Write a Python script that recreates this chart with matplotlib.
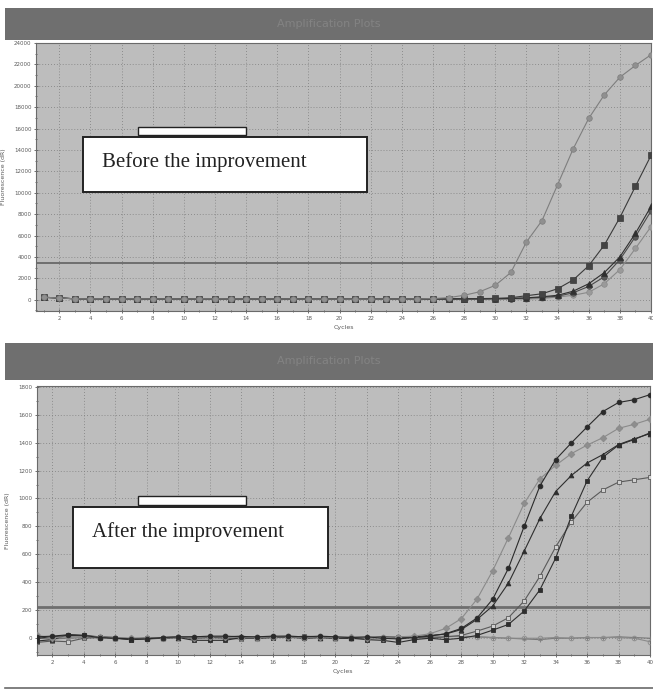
"""
Amplification plots before / after the improvement (qPCR curves).
"""

import numpy as np
import matplotlib
matplotlib.use("Agg")
import matplotlib.pyplot as plt
from matplotlib.patches import Rectangle
from matplotlib.ticker import MultipleLocator

W, H = 653, 689

cycles = np.arange(1, 41)

# ── Before the improvement (dR) ─────────────────────────────────
base_top = [230, 170, 90, 90, 90, 80, 90, 80, 80, 70, 90, 90, 80, 70, 80,
            70, 80, 60, 70, 60, 50, 60, 70, 70, 80]
before_a = base_top + [110, 200, 420, 750, 1350, 2550, 5400, 7400, 10750,
                       14100, 16950, 19150, 20800, 21900, 22900]
before_b = base_top + [90, 90, 100, 110, 130, 190, 380, 560, 1030, 1850,
                       3180, 5110, 7680, 10600, 13490]
before_c = base_top + [80, 80, 90, 90, 100, 120, 180, 280, 420, 800,
                       1500, 2540, 4010, 6210, 8720]
before_d = base_top + [70, 70, 80, 80, 90, 110, 150, 230, 330, 650,
                       1250, 2150, 3750, 5900, 8300]
before_e = base_top + [60, 60, 60, 70, 70, 60, 60, 120, 250, 420,
                       700, 1500, 2820, 4800, 6830]
before_threshold = 3450

# ── After the improvement (dR) ──────────────────────────────────
after_1 = [10, 15, 25, 20, 5, 0, -5, -5, 5, 10, 10, 15, 15, 10, 10, 15, 15,
           10, 15, 10, 5, 10, 0, -5, 5, 15, 32, 70, 145, 280, 501, 801,
           1090, 1278, 1398, 1512, 1622, 1687, 1707, 1743]
after_2 = [20, 5, 10, 15, 10, 5, 0, 0, 5, 10, 5, 10, 10, 5, 5, 10, 10, 5,
           10, 5, 10, 5, 5, 10, 15, 32, 70, 140, 280, 484, 720, 965, 1141,
           1237, 1321, 1382, 1435, 1502, 1531, 1567]
after_3 = [0, 10, 20, 15, 10, 5, -5, 0, 5, 5, 10, 5, 10, 15, 5, 10, 5, 10,
           5, 5, 0, 5, 10, 5, 10, 20, 30, 62, 135, 231, 395, 624, 857,
           1050, 1165, 1254, 1314, 1386, 1427, 1464]
after_4 = [-20, -10, 25, 20, 10, 0, -10, -5, 0, 5, -15, -15, -15, 5, 0, 5,
           10, 0, 5, 0, 0, -10, -15, -30, -10, 0, -10, 0, 20, 58, 99, 195,
           347, 573, 874, 1126, 1295, 1382, 1422, 1470]
after_5 = [-30, -20, -25, 0, 5, 0, -10, 0, 5, 10, 0, 5, 0, -5, 5, 10, 5,
           15, 10, 5, 0, 5, 5, 10, 5, 0, 10, 20, 51, 87, 147, 267, 443,
           653, 833, 973, 1061, 1117, 1134, 1151]
after_6 = [15, 5, 10, 10, 10, 5, 0, 5, 5, 10, 5, 10, 10, 5, 10, 10, 15, 10,
           5, 10, 5, 5, 10, 10, 5, 10, 15, 10, 10, 5, 0, 0, 0, 5, 0, 5, 5,
           5, 0, -25]
after_7 = [0, -5, 0, 5, 5, 0, -5, 0, 5, 5, 0, 5, 5, 0, 0, 5, 5, 0, 5, 0, 5,
           0, 5, 0, 10, 5, 10, 15, 10, 5, 0, -5, -10, 0, 0, 5, 5, 10, 5, 0]
after_threshold = 225

PLOT_BG = "#bdbdbd"
HEAD_BG = "#6f6f6f"
TICK_C = "#5a5a5a"


def fx(px):
    return px / W


def fy(py):
    return 1 - py / H


def header(y0, y1):
    hax = fig.add_axes([fx(5), fy(y1), fx(648), (y1 - y0) / H])
    hax.set_facecolor(HEAD_BG)
    hax.set_xticks([])
    hax.set_yticks([])
    for s in hax.spines.values():
        s.set_visible(False)
    hax.text(0.5, 0.5, "Amplification Plots", ha="center", va="center",
             color="#838383", fontsize=8, transform=hax.transAxes)


def style_axes(ax, ymajor, yminor, xlim, ylim):
    ax.set_facecolor(PLOT_BG)
    ax.set_xlim(*xlim)
    ax.set_ylim(*ylim)
    ax.xaxis.set_major_locator(MultipleLocator(2))
    ax.xaxis.set_minor_locator(MultipleLocator(1))
    ax.yaxis.set_major_locator(MultipleLocator(ymajor))
    ax.yaxis.set_minor_locator(MultipleLocator(yminor))
    ax.grid(True, which="major", ls=(0, (1, 2.5)), color="#7c7c7c", lw=0.6)
    ax.tick_params(which="both", direction="inout", colors=TICK_C,
                   labelsize=4, length=2.5, width=0.6, pad=2)
    ax.tick_params(which="minor", length=2)
    for s in ax.spines.values():
        s.set_color("#6a6a6a")
        s.set_linewidth(0.8)
    ax.set_xlabel("Cycles", fontsize=4.5, color=TICK_C, labelpad=3)
    ax.set_ylabel("Fluorescence (dR)", fontsize=4.5, color=TICK_C, labelpad=6)


def note(x0, y0, x1, y1, tx0, tx1, ty1, label, base_y):
    # small tab behind the box
    fig.add_artist(Rectangle((fx(tx0), fy(ty1)), fx(tx1 - tx0), (ty1 - y0 + 2) / H,
                             transform=fig.transFigure, facecolor="white",
                             edgecolor="#222222", lw=1.0, zorder=10))
    fig.add_artist(Rectangle((fx(x0), fy(y1)), fx(x1 - x0), (y1 - y0) / H,
                             transform=fig.transFigure, facecolor="white",
                             edgecolor="#222222", lw=1.4, zorder=11))
    fig.text(fx(x0 + 19), fy(base_y), label, family="Liberation Serif",
             fontsize=15, color="#222222", va="baseline", ha="left", zorder=12)


fig = plt.figure(figsize=(W / 100, H / 100), dpi=100)
fig.patch.set_facecolor("white")

# ── Top panel ───────────────────────────────────────────────────
header(8, 40)
ax1 = fig.add_axes([fx(36), fy(311), fx(615), 268 / H])
style_axes(ax1, 2000, 1000, (0.5, 40), (-1050, 24000))
ax1.axhline(before_threshold, color="#6e6e6e", lw=1.4, zorder=2)
top_series = [
    (before_e, "#8a8a8a", "o", "#9a9a9a"),
    (before_d, "#4a4a4a", "o", "#5a5a5a"),
    (before_c, "#303030", "^", "#303030"),
    (before_b, "#3a3a3a", "s", "#444444"),
    (before_a, "#7e7e7e", "o", "#909090"),
]
for vals, lc, mk, mc in top_series:
    ax1.plot(cycles, vals, color=lc, lw=0.8, marker=mk, ms=4,
             mfc=mc, mec=lc, mew=0.5, zorder=3)

# ── Bottom panel ────────────────────────────────────────────────
header(343, 380)
ax2 = fig.add_axes([fx(36.7), fy(655), fx(613.3), 269 / H])
style_axes(ax2, 200, 100, (1, 40), (-120, 1805))
ax2.axhline(after_threshold, color="#6e6e6e", lw=2.0, zorder=2)
bottom_series = [
    (after_7, "#777777", "+", "#777777"),
    (after_6, "#8a8a8a", "o", "none"),
    (after_5, "#5a5a5a", "s", "#cfcfcf"),
    (after_4, "#2e2e2e", "s", "#2e2e2e"),
    (after_3, "#2e2e2e", "^", "#2e2e2e"),
    (after_2, "#8a8a8a", "D", "#8e8e8e"),
    (after_1, "#2a2a2a", "o", "#2a2a2a"),
]
for vals, lc, mk, mc in bottom_series:
    ax2.plot(cycles, vals, color=lc, lw=0.8, marker=mk, ms=3.4,
             mfc=mc, mec=lc, mew=0.6, zorder=3)

# bottom rule
fig.add_artist(plt.Line2D([fx(5), 1], [fy(688), fy(688)], color="#6a6a6a",
                          lw=1.2, transform=fig.transFigure))

# ── Annotation boxes ────────────────────────────────────────────
note(83, 137, 367, 192, 138, 246, 127, "Before the improvement", 167)
note(73, 507, 328, 568, 138, 246, 496, "After the improvement", 537)

fig.savefig("out.png", dpi=100, facecolor="white")
